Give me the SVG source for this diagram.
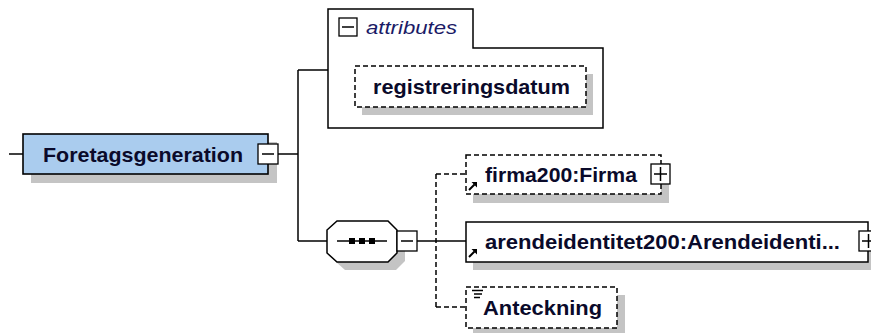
<svg xmlns="http://www.w3.org/2000/svg" width="871" height="333" viewBox="0 0 871 333">
<style>
.ln{stroke:#000;stroke-width:1.5;fill:none}
.dl{stroke:#000;stroke-width:1.5;fill:none;stroke-dasharray:5 3}
.sh{fill:#c4c4c4}
.box{fill:#fff;stroke:#000;stroke-width:1.5}
.dbox{fill:#fff;stroke:#000;stroke-width:1.5;stroke-dasharray:5 3}
.t{font-family:"Liberation Sans",Arial,sans-serif;font-weight:bold;font-size:21px;fill:#0a0a2a}
.it{font-family:"Liberation Sans",Arial,sans-serif;font-style:italic;font-size:18px;fill:#1a1a66}
.ic{fill:#fff;stroke:#000;stroke-width:1.3}
</style>
<defs>
<g id="refarrow"><path d="M0,8 L5.5,2.5" stroke="#000" stroke-width="2"/><path d="M2.5,0 L8,0 L8,5.5 Z" fill="#000"/></g>
</defs>
<g id="connectors">
<path class="ln" d="M9,154 H23"/>
<path class="ln" d="M278,154 H298"/>
<path class="ln" d="M298,70 V241"/>
<path class="ln" d="M298,70 H328"/>
<path class="ln" d="M298,241 H327"/>
<path class="ln" d="M417,241 H466"/>
<path class="dl" d="M436,174 V307"/>
<path class="dl" d="M436,174 H466"/>
<path class="dl" d="M436,307 H466"/>
</g>
<g id="Foretagsgeneration">
<rect class="sh" x="31" y="142" width="246" height="41"/>
<rect x="23" y="134" width="245" height="40" fill="#aaccee" stroke="#000" stroke-width="1.6"/>
<text class="t" x="43" y="162" textLength="200" lengthAdjust="spacingAndGlyphs">Foretagsgeneration</text>
<rect class="ic" x="258" y="144" width="20" height="20"/>
<path class="ln" d="M262,154 H274"/>
</g>
<g id="attributes">
<path class="box" d="M328,9 H473 V48 H603 V128 H328 Z"/>
<rect class="ic" x="339" y="18" width="18" height="18"/>
<path class="ln" d="M342,27 H354"/>
<text class="it" x="366" y="34" textLength="91" lengthAdjust="spacingAndGlyphs">attributes</text>
</g>
<g id="registreringsdatum">
<rect class="sh" x="362" y="74" width="231" height="41"/>
<rect class="dbox" x="355" y="66" width="231" height="41"/>
<text class="t" x="373" y="94" textLength="197" lengthAdjust="spacingAndGlyphs">registreringsdatum</text>
</g>
<g id="sequence">
<path class="sh" d="M345,229 H396 L405,238 V261 L396,270 H345 L335,261 V238 Z"/>
<path class="box" d="M337,221 H388 L397,230 V253 L388,262 H337 L327,253 V230 Z"/>
<path class="ln" d="M337,241 H387"/>
<rect x="349" y="238" width="6" height="6" fill="#000"/>
<rect x="359" y="238" width="6" height="6" fill="#000"/>
<rect x="369" y="238" width="6" height="6" fill="#000"/>
<rect class="ic" x="397" y="231" width="20" height="20"/>
<path class="ln" d="M401,241 H413"/>
</g>
<g id="firma">
<rect class="sh" x="473" y="163" width="196" height="40"/>
<rect class="dbox" x="466" y="155" width="195" height="39"/>
<use href="#refarrow" x="469" y="182"/>
<text class="t" x="485" y="182" textLength="152" lengthAdjust="spacingAndGlyphs">firma200:Firma</text>
<rect class="ic" x="651" y="164" width="19" height="20"/>
<path class="ln" d="M654,174 H667 M660.5,167 V181"/>
</g>
<g id="arendeidentitet">
<rect class="sh" x="473" y="230" width="400" height="40"/>
<rect class="box" x="466" y="222" width="402" height="40"/>
<use href="#refarrow" x="469" y="249"/>
<text class="t" x="485" y="249" textLength="355" lengthAdjust="spacingAndGlyphs">arendeidentitet200:Arendeidenti...</text>
<rect class="ic" x="859" y="231" width="19" height="20"/>
<path class="ln" d="M862,241 H875 M868.5,234 V248"/>
</g>
<g id="Anteckning">
<rect class="sh" x="473" y="295" width="152" height="41"/>
<rect class="dbox" x="466" y="287" width="151" height="41"/>
<path class="ln" d="M472,290.5 H483 M474,294 H482 M474,297.5 H480" stroke-width="1.2"/>
<text class="t" x="483" y="315" textLength="119" lengthAdjust="spacingAndGlyphs">Anteckning</text>
</g>
</svg>
